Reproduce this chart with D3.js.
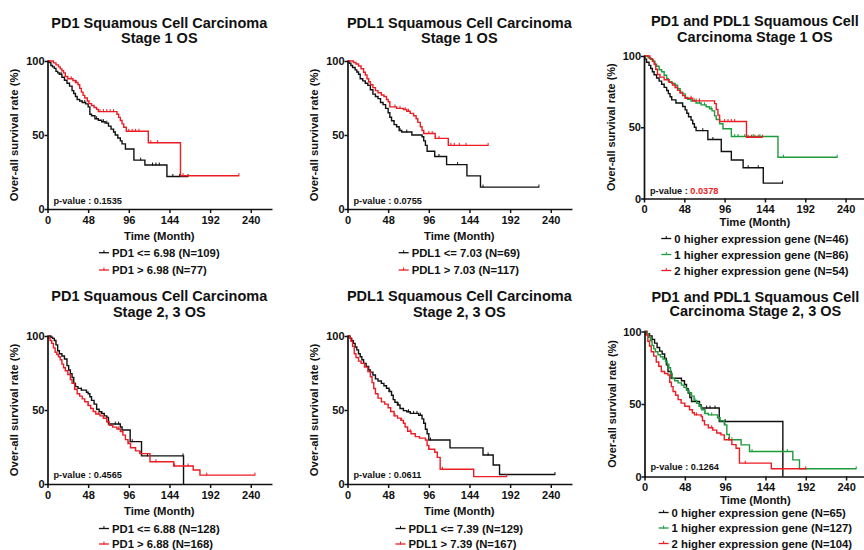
<!DOCTYPE html>
<meta charset="utf-8">
<script src="https://d3js.org/d3.v7.min.js"></script>
<style>
body { margin: 0; background: #fff; }
svg text { font-family: "Liberation Sans", Arial, sans-serif; font-weight: bold; fill: #111; }
</style>
<div id="chart"></div>
<script>

// ---- survival data: [month, survival %] after each step, last point = end of follow-up
var pd1S1Low = [[0,100],[2,99],[4,97],[6,96],[8,95],[10,93],[12,92],[14,91],[17,89],[20,87],[23,85],[26,83],[29,80],[31,78],[33,76],[35,74],[38,73],[41,72],[45,71],[48,69],[50,64],[52,63],[56,61],[60,60],[64,59],[68,58],[72,56],[75,54],[78,52],[80,50],[83,48],[86,46],[88,44],[92,40.5],[102,33],[115,29.7],[141,22],[166,22]];
var pd1S1High = [[0,100],[7,98.7],[10,97.4],[13,96],[15,94.7],[17,93.4],[19,92],[21,89.5],[24,88],[30,86.8],[33,85.5],[36,84],[38,81.5],[40,79],[42,76.8],[44,75],[47,73],[49,71.2],[52,69.9],[55,68.6],[58,67.3],[60,65.8],[82,64],[84,61.9],[86,59.8],[88,57.5],[90,55.2],[93,52.5],[119,44.8],[157,22.5],[226,22.5]];
var pdl1S1Low = [[0,100],[2,98.5],[4,97],[6,95.6],[9,94],[11,92.6],[13,91],[15,88],[18,86.6],[21,85],[24,83.5],[27,80.6],[30,77.6],[33,76],[36,74.6],[39,72],[42,70.5],[45,68],[48,65],[50,62],[52,59.6],[55,57],[58,55.6],[61,53],[64,52],[76,50],[88,48.8],[90,46],[92,43],[94,39],[103,35.5],[117,30],[141,22.4],[157,14.8],[226,14.8]];
var pdl1S1High = [[0,100],[7,99],[10,98],[13,96.6],[16,94.8],[19,92.4],[21,90.5],[23,88],[25,86],[27,84],[30,82],[33,80],[36,78.5],[40,77],[43,76],[46,74],[48,72.5],[50,69],[58,68],[66,67.2],[70,66],[74,64.6],[78,63],[81,61],[83,58.5],[86,55.6],[88,53],[90,51],[103.5,47.7],[119,43],[166.5,43]];
var bothS1Zero = [[0,100],[1,97.8],[3,95.6],[6,93.4],[8,91.2],[10,89],[12,86.8],[15,84.6],[18,82.4],[21,80.2],[24,78],[27,75.8],[29,73.6],[31,71.4],[33,69.2],[38,67],[46,64.6],[49,62.2],[51,59.8],[53,57.4],[56,55],[58,52.5],[60,50],[62,47.6],[76,41.4],[92,33],[104,27],[118,21.6],[142,10.8],[165.5,10.8]];
var bothS1One = [[0,100],[5,98.8],[8,97.6],[11,96.4],[13,94],[15,92.8],[18,90.4],[21,88.9],[24,86.5],[27,84],[29,82],[33,80.8],[37,79.5],[40,77],[43,74.6],[46,73.4],[49,71],[52,69.6],[56,68.3],[62,67],[68,65.7],[74,64.4],[78,63],[81,61.5],[84,58],[86,55.4],[90,52.5],[94,49],[104,43.5],[159.5,29],[230,29]];
var bothS1Two = [[0,100],[7,98.1],[10,96.2],[12,94.4],[14,90.7],[16,87],[19,85.2],[24,83.3],[30,81.5],[34,79.6],[37,77.8],[40,75.9],[43,74],[46,72.2],[49,70.4],[58,68.5],[84,66.6],[86,62.5],[88,58.5],[90,54],[122,43],[141,43]];
var pd1S23Low = [[0,100],[4,99.2],[6,98.4],[8,97],[10,94],[12,90],[14,88],[17,86.5],[20,84.5],[23,80],[25,77],[27,74.6],[29,72],[31,68],[33,65.8],[36,64.6],[40,63.4],[46,62],[48,61],[50,59],[52,56.5],[55,54],[58,50.5],[61,48.8],[64,47.6],[67,46],[70,45],[72,40.5],[86,38.5],[88,36.5],[97.6,28.6],[111,19],[160.6,0]];
var pd1S23High = [[0,100],[1,98.8],[3,97],[5,95],[7,92],[9,89],[11,87.5],[13,86],[15,84],[17,81],[19,78.5],[21,76.5],[24,74],[27,70.5],[29,68],[32,64],[35,61],[38,59.4],[41,57.5],[44,55.6],[48,53],[51,51],[54,49],[57,47.3],[62,46],[66,44.4],[70,42],[73,39.6],[77,38.4],[82,37.2],[86,35.5],[89,33],[92,30],[95,27.4],[98,24.5],[104,22.4],[109,20.5],[121,15],[149,12.2],[172,9.5],[180,6],[245,6]];
var pdl1S23Low = [[0,100],[3,98.4],[5,96.8],[7,95],[9,92.6],[11,90.6],[13,88],[15,86],[17,84],[19,81.5],[22,79.5],[25,77],[27,75.6],[30,73.6],[33,71],[36,69.6],[40,68],[43,66.4],[46,64.7],[49,62.5],[52,60],[54,57],[56,55.2],[59,53.4],[62,51],[66,49.6],[70,48.8],[74,47.7],[84,46.5],[88,44],[90,41],[92,37],[94,34],[96,29.7],[121,24.4],[160,19.6],[172,12.8],[179.5,6.4],[245,6.4]];
var pdl1S23High = [[0,100],[2,98.8],[4,96.4],[6,93],[8,88],[10,85.5],[13,83],[16,81.5],[20,79],[24,76],[27,72.5],[29,68.5],[31,64.5],[33,61],[36,58],[40,55.5],[44,54],[48,51.5],[51,49],[55,46],[59,44.5],[63,43],[66,41],[68,38.5],[71,35.6],[75,34],[80,32],[85,31],[92,29.7],[94,26],[96,23.5],[103,21.5],[106,18],[109.4,10],[149,5],[188,5]];
var bothS23Zero = [[0,100],[3,98.5],[6,97],[9,94.6],[12,92],[15,89],[18,86.5],[21,84.5],[24,81.5],[26,77],[28,72.4],[31.7,67.8],[44,66],[47.6,63.5],[50,60.5],[52,57.5],[54,54.5],[56,51.7],[65.5,49.4],[67.5,47.2],[89,37.9],[164.7,0]];
var bothS23One = [[0,100],[3,98.4],[5,96],[7,93.6],[9,90.4],[11,88],[13,86],[16,84],[19,82.6],[22,81],[25,79.5],[27,77.5],[29,75],[31,71],[33,67.5],[36,66],[40,64.6],[44,63],[47,61.5],[50,59.5],[53,57.8],[56,55.4],[59,52.5],[62,50.5],[65,48.5],[68,46],[72,43.5],[76,42.5],[87,40.5],[90,38.5],[95,35.6],[98,29],[101,25.3],[115,21.8],[125,17.2],[176.6,11.5],[184.5,5.3],[252,5.3]];
var bothS23Two = [[0,100],[2,97.6],[4,93.3],[6,90],[8,86],[11,83],[14,79],[17,76],[20,72.4],[24,71],[28,70],[30,65],[32,62],[34,58.6],[37,56],[40,53],[43.6,50.6],[48,48.5],[53.6,46],[57,44],[59.5,42.5],[67.5,41.4],[69,38.5],[71.4,35.6],[76,33.6],[81.3,32],[86,30],[91,28.7],[95,25.3],[104,22],[109,19.5],[113,9.2],[151,5.3],[192.5,5.3]];

// ---- censored times (small ticks on the curves)
var pd1S1LowCens = [16,44,58,66,70,110,124,128,132,148,156,166];
var pd1S1HighCens = [28,34,62,66,70,74,78,96,100,104,108,122,130,160,226];
var pdl1S1LowCens = [62,70,108,130,160,226];
var pdl1S1HighCens = [56,62,68,72,96,100,104,108,122,126,132,140,166];
var bothS1ZeroCens = [70,82,124,136,165];
var bothS1OneCens = [60,66,72,80,108,112,120,130,138,166,230];
var bothS1TwoCens = [38,56,62,66,96,100,104,108,124,128,132,136,141];
var pd1S23LowCens = [40,64,80,84,100,118,160];
var pd1S23HighCens = [48,60,70,84,96,110,128,150,166,188,245];
var pdl1S23LowCens = [50,60,72,78,82,86,98,166,245];
var pdl1S23HighCens = [56,64,74,96,112,188];
var bothS23ZeroCens = [74,78,84,96];
var bothS23OneCens = [60,72,80,96,104,128,170,252];
var bothS23TwoCens = [62,80,100,120,192];

var titles = [
  ["PD1 Squamous Cell Carcinoma", "Stage 1 OS"],
  ["PDL1 Squamous Cell Carcinoma", "Stage 1 OS"],
  ["PD1 and PDL1 Squamous Cell", "Carcinoma Stage 1 OS"],
  ["PD1 Squamous Cell Carcinoma", "Stage 2, 3 OS"],
  ["PDL1 Squamous Cell Carcinoma", "Stage 2, 3 OS"],
  ["PD1 and PDL1 Squamous Cell", "Carcinoma Stage 2, 3 OS"]
];
var legendLabels = [
  ["PD1 <= 6.98 (N=109)", "PD1 > 6.98 (N=77)"],
  ["PDL1 <= 7.03 (N=69)", "PDL1 > 7.03 (N=117)"],
  ["0 higher expression gene (N=46)", "1 higher expression gene (N=86)", "2 higher expression gene (N=54)"],
  ["PD1 <= 6.88 (N=128)", "PD1 > 6.88 (N=168)"],
  ["PDL1 <= 7.39 (N=129)", "PDL1 > 7.39 (N=167)"],
  ["0 higher expression gene (N=65)", "1 higher expression gene (N=127)", "2 higher expression gene (N=104)"]
];
var pValues = ["0.1535", "0.0755", "0.0378", "0.4565", "0.0611", "0.1264"];
var xTicks = [0, 48, 96, 144, 192, 240];
var yTicks = [0, 50, 100];

var black = "#111111", red = "#ec1c24", green = "#1f9a3d";

var curves = [
  [[pd1S1Low, pd1S1LowCens, black], [pd1S1High, pd1S1HighCens, red]],
  [[pdl1S1Low, pdl1S1LowCens, black], [pdl1S1High, pdl1S1HighCens, red]],
  [[bothS1Zero, bothS1ZeroCens, black], [bothS1One, bothS1OneCens, green], [bothS1Two, bothS1TwoCens, red]],
  [[pd1S23Low, pd1S23LowCens, black], [pd1S23High, pd1S23HighCens, red]],
  [[pdl1S23Low, pdl1S23LowCens, black], [pdl1S23High, pdl1S23HighCens, red]],
  [[bothS23Zero, bothS23ZeroCens, black], [bothS23One, bothS23OneCens, green], [bothS23Two, bothS23TwoCens, red]]
];

// panel placement (pixels)
var layout = [
  {x0: 47.5, y0: 209, y1: 61, ppm: 0.847, t1: 27.5, t2: 43, xl: 239.5, lg: 256.7, ls: 17.3, pv: 203.5, yl: -29.5, pRed: false},
  {x0: 347.5, y0: 209, y1: 61, ppm: 0.847, t1: 27.5, t2: 43, xl: 239.5, lg: 256.7, ls: 17.3, pv: 203.5, yl: -29.5, pRed: false},
  {x0: 644, y0: 198.5, y1: 56, ppm: 0.84, t1: 25.7, t2: 41.7, xl: 225.7, lg: 242.5, ls: 16, pv: 193.5, yl: -29, pRed: true},
  {x0: 47.5, y0: 484, y1: 336, ppm: 0.847, t1: 301, t2: 316.5, xl: 515, lg: 532.5, ls: 15.5, pv: 477.5, yl: -29.5, pRed: false},
  {x0: 347.5, y0: 484, y1: 336, ppm: 0.847, t1: 301, t2: 316.5, xl: 515, lg: 532.5, ls: 15.5, pv: 477.5, yl: -29.5, pRed: false},
  {x0: 644.5, y0: 476.5, y1: 331.5, ppm: 0.84, t1: 301.5, t2: 316, xl: 504, lg: 516.5, ls: 15.5, pv: 469.5, yl: -29, pRed: false}
];

var svg = d3.select("#chart")
  .append("svg")
    .attr("width", 864)
    .attr("height", 550);

layout.forEach(function(p, i) {
  var g = svg.append("g");

  var x = d3.scaleLinear().domain([0, 264]).range([p.x0, p.x0 + 264 * p.ppm]);
  var y = d3.scaleLinear().domain([0, 100]).range([p.y0, p.y1]);
  var cx = x(132);

  // title
  g.append("text").attr("x", cx).attr("y", p.t1).attr("text-anchor", "middle")
    .style("font-size", "14.5px").text(titles[i][0]);
  g.append("text").attr("x", cx).attr("y", p.t2).attr("text-anchor", "middle")
    .style("font-size", "14.5px").text(titles[i][1]);

  // curves
  var line = d3.line()
    .x(function(d) { return x(d[0]); })
    .y(function(d) { return y(d[1]); })
    .curve(d3.curveStepAfter);
  var bis = d3.bisector(function(d) { return d[0]; }).right;

  curves[i].forEach(function(c) {
    g.append("path")
      .attr("d", line(c[0]))
      .attr("fill", "none")
      .attr("stroke", c[2])
      .attr("stroke-width", 1.4);
    g.selectAll(null)
      .data(c[1])
      .enter()
      .append("line")
        .attr("x1", function(t) { return x(t); })
        .attr("x2", function(t) { return x(t); })
        .attr("y1", function(t) { return y(c[0][bis(c[0], t) - 1][1]) - 2.5; })
        .attr("y2", function(t) { return y(c[0][bis(c[0], t) - 1][1]) + 0.5; })
        .attr("stroke", c[2])
        .attr("stroke-width", 1);
  });

  // axes
  var xa = g.append("g")
    .attr("transform", "translate(0," + p.y0 + ")")
    .call(d3.axisBottom(x).tickValues(xTicks).tickSize(4).tickPadding(3).tickSizeOuter(0));
  var ya = g.append("g")
    .attr("transform", "translate(" + p.x0 + ",0)")
    .call(d3.axisLeft(y).tickValues(yTicks).tickSize(3).tickPadding(0).tickSizeOuter(0));
  [xa, ya].forEach(function(a) {
    a.select(".domain").attr("stroke", "#111").attr("stroke-width", 1.7).attr("stroke-linecap", "square");
    a.selectAll(".tick line").attr("stroke", "#111").attr("stroke-width", 1.5);
    a.selectAll(".tick text").style("font-size", "11px").attr("fill", "#111")
      .style("font-family", "'Liberation Sans', Arial, sans-serif").style("font-weight", "bold");
  });

  // axis titles
  g.append("text")
    .attr("transform", "translate(" + (p.x0 + p.yl) + "," + ((p.y0 + p.y1) / 2) + ") rotate(-90)")
    .attr("text-anchor", "middle")
    .style("font-size", i % 3 == 2 ? "10.9px" : "11.3px")
    .text("Over-all survival rate (%)");
  g.append("text").attr("x", cx).attr("y", p.xl).attr("text-anchor", "middle")
    .style("font-size", "11.3px").text("Time (Month)");

  // p-value
  var pt = g.append("text").attr("x", p.x0 + 6).attr("y", p.pv).style("font-size", "9.2px");
  pt.append("tspan").text("p-value : ");
  pt.append("tspan").style("fill", p.pRed ? red : "#111").text(pValues[i]);

  // legend
  var rows = legendLabels[i].map(function(lab, k) {
    var row = g.append("g");
    var t = row.append("text").attr("y", p.lg + k * p.ls).attr("x", 13)
      .style("font-size", "11.3px").text(lab);
    row.append("line").attr("x1", 0).attr("x2", 10)
      .attr("y1", p.lg + k * p.ls - 4).attr("y2", p.lg + k * p.ls - 4)
      .attr("stroke", curves[i][k][2]).attr("stroke-width", 1.3);
    row.append("line").attr("x1", 5).attr("x2", 5)
      .attr("y1", p.lg + k * p.ls - 6.5).attr("y2", p.lg + k * p.ls - 3.5)
      .attr("stroke", curves[i][k][2]).attr("stroke-width", 1);
    return {row: row, w: t.node().getComputedTextLength()};
  });
  var wMax = d3.max(rows, function(r) { return r.w; }) + 13;
  rows.forEach(function(r) {
    r.row.attr("transform", "translate(" + (cx - wMax / 2) + ",0)");
  });
});

</script>
